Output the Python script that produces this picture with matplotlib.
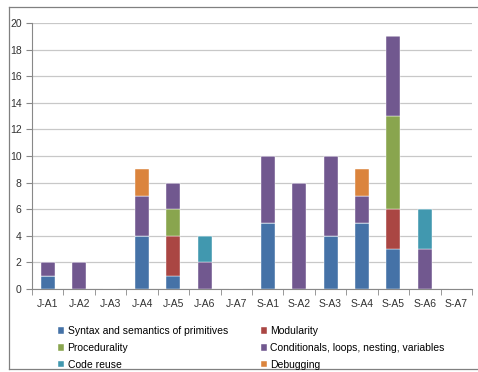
import matplotlib
matplotlib.use("Agg")
import matplotlib.pyplot as plt
from matplotlib.lines import Line2D
import numpy as np

plt.rcParams['font.family'] = ['Liberation Sans', 'DejaVu Sans']

categories = ["J-A1", "J-A2", "J-A3", "J-A4", "J-A5", "J-A6", "J-A7",
              "S-A1", "S-A2", "S-A3", "S-A4", "S-A5", "S-A6", "S-A7"]
syntax       = [1, 0, 0, 4, 1, 0, 0, 5, 0, 4, 5, 3, 0, 0]
modularity   = [0, 0, 0, 0, 3, 0, 0, 0, 0, 0, 0, 3, 0, 0]
procedural   = [0, 0, 0, 0, 2, 0, 0, 0, 0, 0, 0, 7, 0, 0]
conditionals = [1, 2, 0, 3, 2, 2, 0, 5, 8, 6, 2, 6, 3, 0]
code_reuse   = [0, 0, 0, 0, 0, 2, 0, 0, 0, 0, 0, 0, 3, 0]
debugging    = [0, 0, 0, 2, 0, 0, 0, 0, 0, 0, 2, 0, 0, 0]

series = [
    ("Syntax and semantics of primitives", syntax, "#4572A7"),
    ("Modularity", modularity, "#AA4643"),
    ("Procedurality", procedural, "#89A54E"),
    ("Conditionals, loops, nesting, variables", conditionals, "#71588F"),
    ("Code reuse", code_reuse, "#4198AF"),
    ("Debugging", debugging, "#DB843D"),
]

fig = plt.figure(figsize=(4.78, 3.72), dpi=100)
ax = fig.add_axes([32/478, 1-289/372, 440/478, 266/372])

x = np.arange(len(categories))
bottom = np.zeros(len(categories))
handles = {}
for name, vals, col in series:
    vals = np.array(vals, dtype=float)
    b = ax.bar(x, vals, 0.45, bottom=bottom, color=col, label=name,
               edgecolor="white", linewidth=0.3)
    handles[name] = b
    bottom += vals

ax.set_xlim(-0.5, len(categories) - 0.5)
ax.set_ylim(0, 20)
ax.set_yticks(range(0, 21, 2))
ax.yaxis.grid(True, color="#c8c8c8", linewidth=0.9)
ax.set_axisbelow(True)
ax.set_xticks(x)
ax.set_xticklabels(categories)
ax.set_xticks(np.arange(-0.5, len(categories)), minor=True)
ax.tick_params(axis="x", which="major", length=0, pad=7, labelsize=7.5, colors="#333333")
ax.tick_params(axis="x", which="minor", length=4, color="#888888")
ax.tick_params(axis="y", length=4, labelsize=7.5, color="#888888", colors="#333333")
for s in ["top", "right"]:
    ax.spines[s].set_visible(False)
ax.spines["left"].set_color("#888888")
ax.spines["bottom"].set_color("#888888")

order = [series[0][0], series[2][0], series[4][0], series[1][0], series[3][0], series[5][0]]
fig.legend([handles[n] for n in order], order, ncol=2, frameon=False,
           loc="upper left", bbox_to_anchor=(54/478, 1-322/372),
           fontsize=7.5, handlelength=0.6, handleheight=0.6, handletextpad=0.3,
           columnspacing=3.2, labelspacing=0.65, borderaxespad=0)

# outer frame (top, left, bottom), open at the right edge
fx0, fy0, fy1 = 9/478, 1-369/372, 1-7/372
for xs, ys in [([fx0, 1], [fy1, fy1]), ([fx0, fx0], [fy0, fy1]), ([fx0, 1], [fy0, fy0])]:
    fig.lines.append(Line2D(xs, ys, transform=fig.transFigure, color="#808080", linewidth=0.9))

fig.savefig("out.png", dpi=100)
